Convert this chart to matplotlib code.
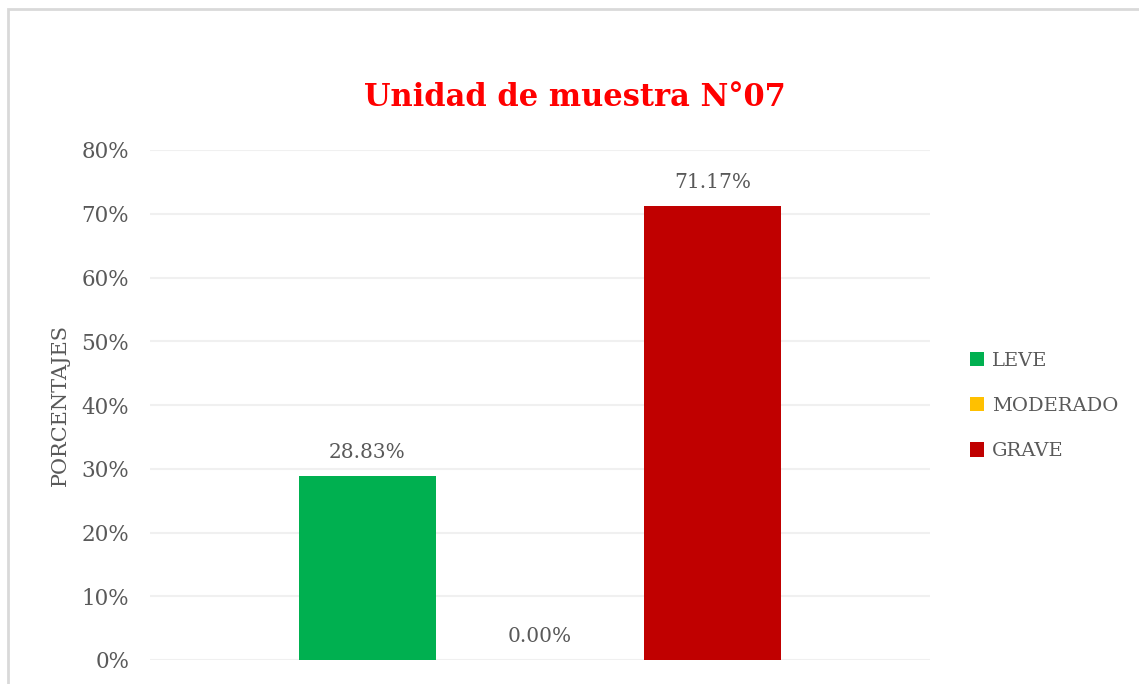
import matplotlib.pyplot as plt
from matplotlib.patches import Rectangle

# datos de la unidad de muestra
niveles = ['LEVE', 'MODERADO', 'GRAVE']
porcentajes = [0.2883, 0.0, 0.7117]
colores = ['#00B050', '#FFC000', '#C00000']
ticks_y = [0.0, 0.1, 0.2, 0.3, 0.4, 0.5, 0.6, 0.7, 0.8]

plt.rcParams['font.family'] = ['DejaVu Serif']
gris = '#595959'

fig = plt.figure(figsize=(11.39, 6.84), dpi=100)
ax = fig.add_axes([150 / 1139, 1 - 660 / 684, 780 / 1139, 510 / 684])

# borde del area del grafico
fig.patches.append(Rectangle((8 / 1139, -0.1), 1.2, 1 - 9 / 684 + 0.1,
                             transform=fig.transFigure, fill=False,
                             edgecolor='#D9D9D9', linewidth=2, zorder=0))

pos = [-1, 0, 1]
barras = ax.bar(pos, porcentajes, width=0.794, color=colores, label=niveles, zorder=3)

for x, v in zip(pos, porcentajes):
    ax.annotate(f'{v * 100:.2f}%', (x, v), xytext=(0, 17), textcoords='offset points',
                ha='center', va='center', fontsize=14.5, color=gris)

ax.set_xlim(-2.26, 2.26)
ax.set_ylim(0, 0.8)
ax.set_yticks(ticks_y)
ax.set_yticklabels([f'{int(round(t * 100))}%' for t in ticks_y])
ax.set_xticks([])
ax.tick_params(axis='y', length=0, labelsize=15.5, labelcolor=gris, pad=15)
ax.grid(axis='y', color='#F0F0F0', linewidth=1.5, zorder=0)
for s in ax.spines.values():
    s.set_visible(False)

ax.set_ylabel('PORCENTAJES', fontsize=15, color=gris, labelpad=8)

fig.text(575 / 1139, 1 - 97 / 684, 'Unidad de muestra N°07', ha='center', va='center',
         fontsize=22, fontweight='bold', color='#FF0000')

ax.legend(handles=list(barras), labels=niveles, loc='center left',
          bbox_to_anchor=(952 / 1139, 1 - 406 / 684), bbox_transform=fig.transFigure,
          frameon=False, fontsize=14, labelcolor=gris, handlelength=0.75,
          handleheight=0.75, handletextpad=0.4, labelspacing=1.4)

fig.savefig('out.png', dpi=100)
